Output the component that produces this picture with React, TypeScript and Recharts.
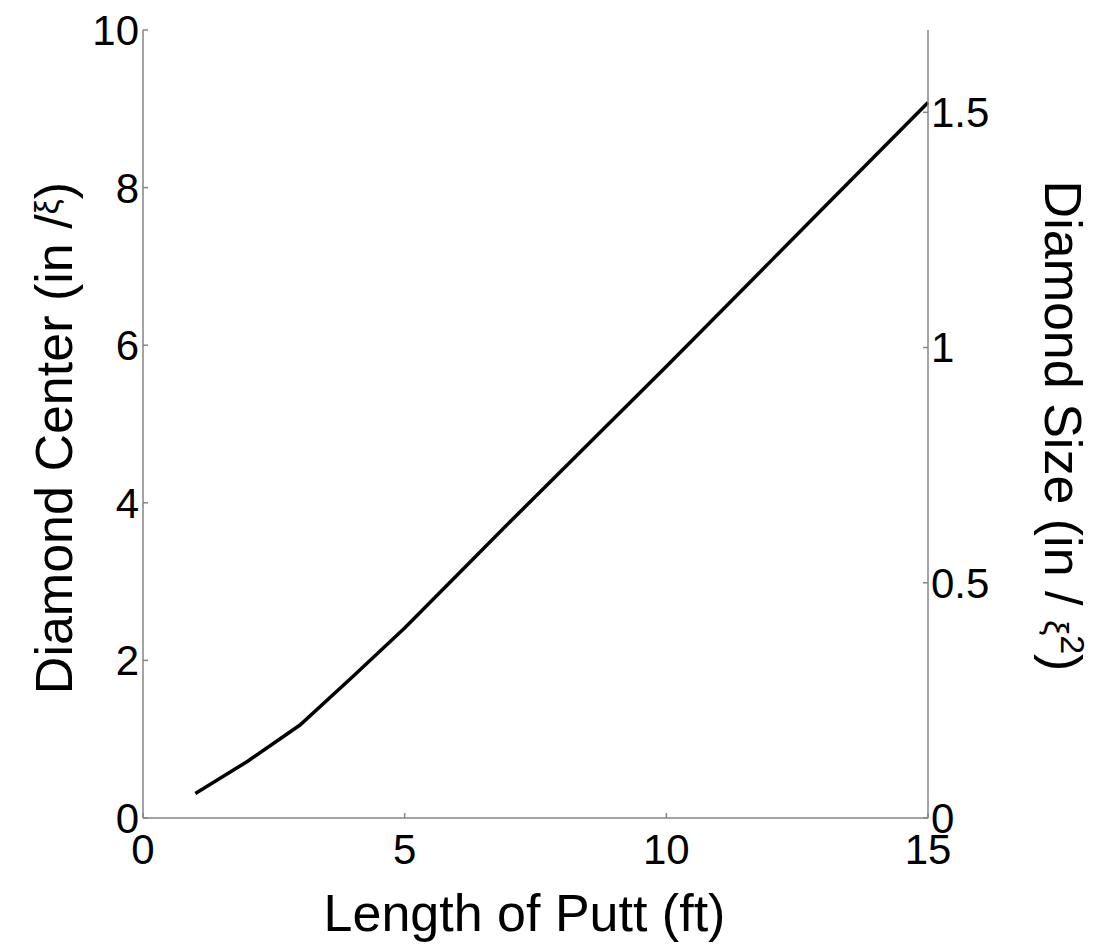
import { Line, LineChart, XAxis, YAxis } from "recharts";

const puttLength = [1, 2, 3, 4, 5, 6, 7, 8, 9, 10, 11, 12, 13, 14, 15];
const diamondCenter = [0.31, 0.72, 1.18, 1.79, 2.41, 3.08, 3.75, 4.41, 5.07, 5.73, 6.4, 7.07, 7.74, 8.41, 9.08];

const xTicks = [0, 5, 10, 15];
const leftTicks = [0, 2, 4, 6, 8, 10];
const rightTicks = [0, 0.5, 1, 1.5];

const data = puttLength.map((len, i) => ({ len, center: diamondCenter[i] }));

const FONT = "'Liberation Sans', Arial, sans-serif";
const AXIS = "#858585";
const tickStyle = { fill: "#000", fontSize: 42, fontFamily: FONT };

function LeftTitle(props: any) {
  const vb = props.viewBox;
  const x = vb.x + 9;
  const y = vb.y + vb.height / 2 + 14;
  return (
    <text
      x={x}
      y={y}
      transform={`rotate(-90, ${x}, ${y})`}
      textAnchor="middle"
      fontFamily={FONT}
      fontSize={52}
      fill="#000"
    >
      Diamond Center (in /<tspan fontSize={34} dy={-14}>ξ</tspan>
      <tspan dy={14}>)</tspan>
    </text>
  );
}

function RightTitle(props: any) {
  const vb = props.viewBox;
  const x = vb.x + vb.width + 37;
  const y = vb.y + vb.height / 2 + 2;
  return (
    <text
      x={x}
      y={y}
      transform={`rotate(90, ${x}, ${y})`}
      textAnchor="middle"
      fontFamily={FONT}
      fontSize={52}
      fill="#000"
    >
      Diamond Size (in / <tspan fontSize={34}>ξ</tspan>
      <tspan fontSize={34} dy={-16}>2</tspan>
      <tspan dy={16}>)</tspan>
    </text>
  );
}

function BottomTitle(props: any) {
  const vb = props.viewBox;
  const x = vb.x + vb.width / 2 - 11;
  const y = vb.y + vb.height + 53;
  return (
    <text x={x} y={y} textAnchor="middle" fontFamily={FONT} fontSize={52} fill="#000">
      Length of Putt (ft)
    </text>
  );
}

export default function App() {
  return (
    <div style={{ position: "absolute", left: 0, top: 0, width: 1097, height: 944, background: "#fff" }}>
      <LineChart
        width={1097}
        height={944}
        data={data}
        margin={{ top: 30, right: 89, bottom: 66, left: 63 }}
      >
        <XAxis
          dataKey="len"
          type="number"
          domain={[0, 15]}
          ticks={xTicks}
          interval={0}
          height={60}
          axisLine={{ stroke: AXIS, strokeWidth: 1.5 }}
          tickLine={{ stroke: AXIS, strokeWidth: 1.5 }}
          tickSize={-5}
          tickMargin={21}
          tick={tickStyle}
          label={BottomTitle}
        />
        <YAxis
          yAxisId="left"
          type="number"
          domain={[0, 10]}
          ticks={leftTicks}
          interval={0}
          width={80}
          axisLine={{ stroke: AXIS, strokeWidth: 1.5 }}
          tickLine={{ stroke: AXIS, strokeWidth: 1.5 }}
          tickSize={-5}
          tickMargin={9}
          tick={tickStyle}
          label={LeftTitle}
        />
        <YAxis
          yAxisId="right"
          orientation="right"
          type="number"
          domain={[0, 1.675]}
          allowDataOverflow
          ticks={rightTicks}
          interval={0}
          width={80}
          axisLine={{ stroke: AXIS, strokeWidth: 1.5 }}
          tickLine={{ stroke: AXIS, strokeWidth: 1.5 }}
          tickSize={-5}
          tickMargin={8}
          tick={tickStyle}
          label={RightTitle}
        />
        <Line
          yAxisId="left"
          type="linear"
          dataKey="center"
          stroke="#000"
          strokeWidth={3.5}
          dot={false}
          activeDot={false}
          isAnimationActive={false}
        />
      </LineChart>
    </div>
  );
}
